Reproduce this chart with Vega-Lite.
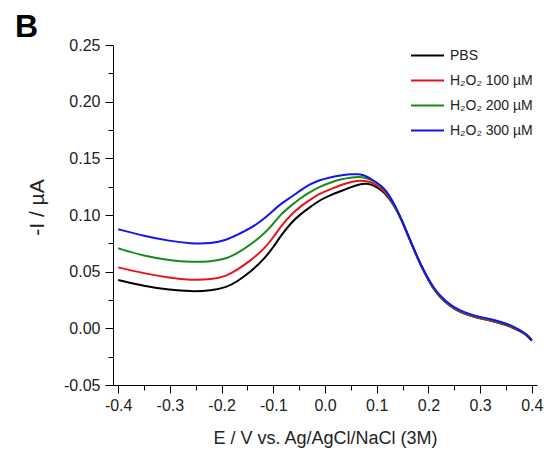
{
  "$schema": "https://vega.github.io/schema/vega-lite/v6.json",
  "width": 424,
  "height": 340,
  "autosize": {"type": "none"},
  "padding": {"left": 113, "top": 45, "right": 12, "bottom": 70},
  "config": {"font": "Liberation Sans", "view": {"stroke": null}},
  "title": {"text": "B", "fontSize": 32, "fontWeight": "bold", "anchor": "start", "frame": "group", "dx": -98, "dy": 35, "offset": 3, "baseline": "alphabetic", "color": "#000"},
  "datasets": {
    "curves": [
      {"s":"PBS","E":-0.40,"I":0.0426},{"s":"PBS","E":-0.35,"I":0.0373},{"s":"PBS","E":-0.30,"I":0.0338},{"s":"PBS","E":-0.26,"I":0.0325},{"s":"PBS","E":-0.22,"I":0.0332},{"s":"PBS","E":-0.19,"I":0.0362},{"s":"PBS","E":-0.17,"I":0.0412},{"s":"PBS","E":-0.145,"I":0.0495},{"s":"PBS","E":-0.12,"I":0.06},{"s":"PBS","E":-0.10,"I":0.0715},{"s":"PBS","E":-0.085,"I":0.082},{"s":"PBS","E":-0.065,"I":0.0935},{"s":"PBS","E":-0.048,"I":0.1005},{"s":"PBS","E":-0.03,"I":0.1065},{"s":"PBS","E":-0.01,"I":0.1132},{"s":"PBS","E":0.01,"I":0.1175},{"s":"PBS","E":0.03,"I":0.121},{"s":"PBS","E":0.05,"I":0.1245},{"s":"PBS","E":0.065,"I":0.127},{"s":"PBS","E":0.08,"I":0.128},{"s":"PBS","E":0.095,"I":0.1262},{"s":"PBS","E":0.11,"I":0.1215},{"s":"PBS","E":0.12,"I":0.117},{"s":"PBS","E":0.13,"I":0.111},{"s":"PBS","E":0.14,"I":0.103},{"s":"PBS","E":0.15,"I":0.0935},{"s":"PBS","E":0.16,"I":0.0825},{"s":"PBS","E":0.17,"I":0.0715},{"s":"PBS","E":0.18,"I":0.061},{"s":"PBS","E":0.19,"I":0.0512},{"s":"PBS","E":0.20,"I":0.0425},{"s":"PBS","E":0.21,"I":0.035},{"s":"PBS","E":0.22,"I":0.0288},{"s":"PBS","E":0.235,"I":0.0222},{"s":"PBS","E":0.25,"I":0.0172},{"s":"PBS","E":0.265,"I":0.0137},{"s":"PBS","E":0.28,"I":0.0112},{"s":"PBS","E":0.30,"I":0.0087},{"s":"PBS","E":0.32,"I":0.0069},{"s":"PBS","E":0.345,"I":0.0037},{"s":"PBS","E":0.36,"I":0.0013},{"s":"PBS","E":0.375,"I":-0.002},{"s":"PBS","E":0.39,"I":-0.0058},{"s":"PBS","E":0.40,"I":-0.011},
      {"s":"H₂O₂ 100 µM","E":-0.40,"I":0.0538},{"s":"H₂O₂ 100 µM","E":-0.35,"I":0.0485},{"s":"H₂O₂ 100 µM","E":-0.30,"I":0.0445},{"s":"H₂O₂ 100 µM","E":-0.26,"I":0.0425},{"s":"H₂O₂ 100 µM","E":-0.22,"I":0.043},{"s":"H₂O₂ 100 µM","E":-0.19,"I":0.0462},{"s":"H₂O₂ 100 µM","E":-0.17,"I":0.0515},{"s":"H₂O₂ 100 µM","E":-0.145,"I":0.0595},{"s":"H₂O₂ 100 µM","E":-0.12,"I":0.069},{"s":"H₂O₂ 100 µM","E":-0.10,"I":0.08},{"s":"H₂O₂ 100 µM","E":-0.085,"I":0.0905},{"s":"H₂O₂ 100 µM","E":-0.065,"I":0.1005},{"s":"H₂O₂ 100 µM","E":-0.048,"I":0.1074},{"s":"H₂O₂ 100 µM","E":-0.03,"I":0.113},{"s":"H₂O₂ 100 µM","E":-0.01,"I":0.1191},{"s":"H₂O₂ 100 µM","E":0.01,"I":0.1225},{"s":"H₂O₂ 100 µM","E":0.03,"I":0.1265},{"s":"H₂O₂ 100 µM","E":0.05,"I":0.129},{"s":"H₂O₂ 100 µM","E":0.065,"I":0.1305},{"s":"H₂O₂ 100 µM","E":0.08,"I":0.13},{"s":"H₂O₂ 100 µM","E":0.095,"I":0.128},{"s":"H₂O₂ 100 µM","E":0.11,"I":0.123},{"s":"H₂O₂ 100 µM","E":0.12,"I":0.118},{"s":"H₂O₂ 100 µM","E":0.13,"I":0.1115},{"s":"H₂O₂ 100 µM","E":0.14,"I":0.1032},{"s":"H₂O₂ 100 µM","E":0.15,"I":0.0937},{"s":"H₂O₂ 100 µM","E":0.16,"I":0.0827},{"s":"H₂O₂ 100 µM","E":0.17,"I":0.0717},{"s":"H₂O₂ 100 µM","E":0.18,"I":0.0612},{"s":"H₂O₂ 100 µM","E":0.19,"I":0.0514},{"s":"H₂O₂ 100 µM","E":0.20,"I":0.0427},{"s":"H₂O₂ 100 µM","E":0.21,"I":0.0351},{"s":"H₂O₂ 100 µM","E":0.22,"I":0.029},{"s":"H₂O₂ 100 µM","E":0.235,"I":0.0223},{"s":"H₂O₂ 100 µM","E":0.25,"I":0.0173},{"s":"H₂O₂ 100 µM","E":0.265,"I":0.0138},{"s":"H₂O₂ 100 µM","E":0.28,"I":0.0113},{"s":"H₂O₂ 100 µM","E":0.30,"I":0.0088},{"s":"H₂O₂ 100 µM","E":0.32,"I":0.007},{"s":"H₂O₂ 100 µM","E":0.345,"I":0.0038},{"s":"H₂O₂ 100 µM","E":0.36,"I":0.0014},{"s":"H₂O₂ 100 µM","E":0.375,"I":-0.0019},{"s":"H₂O₂ 100 µM","E":0.39,"I":-0.0057},{"s":"H₂O₂ 100 µM","E":0.40,"I":-0.0109},
      {"s":"H₂O₂ 200 µM","E":-0.40,"I":0.0706},{"s":"H₂O₂ 200 µM","E":-0.35,"I":0.0638},{"s":"H₂O₂ 200 µM","E":-0.30,"I":0.06},{"s":"H₂O₂ 200 µM","E":-0.26,"I":0.0585},{"s":"H₂O₂ 200 µM","E":-0.22,"I":0.0588},{"s":"H₂O₂ 200 µM","E":-0.19,"I":0.0615},{"s":"H₂O₂ 200 µM","E":-0.17,"I":0.0662},{"s":"H₂O₂ 200 µM","E":-0.145,"I":0.0735},{"s":"H₂O₂ 200 µM","E":-0.12,"I":0.0824},{"s":"H₂O₂ 200 µM","E":-0.10,"I":0.092},{"s":"H₂O₂ 200 µM","E":-0.085,"I":0.101},{"s":"H₂O₂ 200 µM","E":-0.065,"I":0.1085},{"s":"H₂O₂ 200 µM","E":-0.048,"I":0.1147},{"s":"H₂O₂ 200 µM","E":-0.03,"I":0.12},{"s":"H₂O₂ 200 µM","E":-0.01,"I":0.125},{"s":"H₂O₂ 200 µM","E":0.01,"I":0.1285},{"s":"H₂O₂ 200 µM","E":0.03,"I":0.1315},{"s":"H₂O₂ 200 µM","E":0.05,"I":0.133},{"s":"H₂O₂ 200 µM","E":0.065,"I":0.1338},{"s":"H₂O₂ 200 µM","E":0.08,"I":0.1328},{"s":"H₂O₂ 200 µM","E":0.095,"I":0.13},{"s":"H₂O₂ 200 µM","E":0.11,"I":0.1248},{"s":"H₂O₂ 200 µM","E":0.12,"I":0.1195},{"s":"H₂O₂ 200 µM","E":0.13,"I":0.112},{"s":"H₂O₂ 200 µM","E":0.14,"I":0.1035},{"s":"H₂O₂ 200 µM","E":0.15,"I":0.0938},{"s":"H₂O₂ 200 µM","E":0.16,"I":0.0828},{"s":"H₂O₂ 200 µM","E":0.17,"I":0.0718},{"s":"H₂O₂ 200 µM","E":0.18,"I":0.0613},{"s":"H₂O₂ 200 µM","E":0.19,"I":0.0517},{"s":"H₂O₂ 200 µM","E":0.20,"I":0.043},{"s":"H₂O₂ 200 µM","E":0.21,"I":0.0355},{"s":"H₂O₂ 200 µM","E":0.22,"I":0.0294},{"s":"H₂O₂ 200 µM","E":0.235,"I":0.0228},{"s":"H₂O₂ 200 µM","E":0.25,"I":0.0178},{"s":"H₂O₂ 200 µM","E":0.265,"I":0.0144},{"s":"H₂O₂ 200 µM","E":0.28,"I":0.0119},{"s":"H₂O₂ 200 µM","E":0.30,"I":0.0094},{"s":"H₂O₂ 200 µM","E":0.32,"I":0.0076},{"s":"H₂O₂ 200 µM","E":0.345,"I":0.0044},{"s":"H₂O₂ 200 µM","E":0.36,"I":0.002},{"s":"H₂O₂ 200 µM","E":0.375,"I":-0.0014},{"s":"H₂O₂ 200 µM","E":0.39,"I":-0.0053},{"s":"H₂O₂ 200 µM","E":0.40,"I":-0.0107},
      {"s":"H₂O₂ 300 µM","E":-0.40,"I":0.0874},{"s":"H₂O₂ 300 µM","E":-0.35,"I":0.0815},{"s":"H₂O₂ 300 µM","E":-0.30,"I":0.077},{"s":"H₂O₂ 300 µM","E":-0.26,"I":0.0748},{"s":"H₂O₂ 300 µM","E":-0.22,"I":0.0748},{"s":"H₂O₂ 300 µM","E":-0.19,"I":0.078},{"s":"H₂O₂ 300 µM","E":-0.17,"I":0.0824},{"s":"H₂O₂ 300 µM","E":-0.145,"I":0.088},{"s":"H₂O₂ 300 µM","E":-0.12,"I":0.0956},{"s":"H₂O₂ 300 µM","E":-0.10,"I":0.104},{"s":"H₂O₂ 300 µM","E":-0.085,"I":0.11},{"s":"H₂O₂ 300 µM","E":-0.065,"I":0.116},{"s":"H₂O₂ 300 µM","E":-0.048,"I":0.1215},{"s":"H₂O₂ 300 µM","E":-0.03,"I":0.127},{"s":"H₂O₂ 300 µM","E":-0.01,"I":0.131},{"s":"H₂O₂ 300 µM","E":0.01,"I":0.1332},{"s":"H₂O₂ 300 µM","E":0.03,"I":0.135},{"s":"H₂O₂ 300 µM","E":0.05,"I":0.136},{"s":"H₂O₂ 300 µM","E":0.065,"I":0.1362},{"s":"H₂O₂ 300 µM","E":0.08,"I":0.1345},{"s":"H₂O₂ 300 µM","E":0.095,"I":0.13},{"s":"H₂O₂ 300 µM","E":0.11,"I":0.1255},{"s":"H₂O₂ 300 µM","E":0.12,"I":0.1205},{"s":"H₂O₂ 300 µM","E":0.13,"I":0.113},{"s":"H₂O₂ 300 µM","E":0.14,"I":0.104},{"s":"H₂O₂ 300 µM","E":0.15,"I":0.094},{"s":"H₂O₂ 300 µM","E":0.16,"I":0.083},{"s":"H₂O₂ 300 µM","E":0.17,"I":0.072},{"s":"H₂O₂ 300 µM","E":0.18,"I":0.0615},{"s":"H₂O₂ 300 µM","E":0.19,"I":0.052},{"s":"H₂O₂ 300 µM","E":0.20,"I":0.0435},{"s":"H₂O₂ 300 µM","E":0.21,"I":0.036},{"s":"H₂O₂ 300 µM","E":0.22,"I":0.03},{"s":"H₂O₂ 300 µM","E":0.235,"I":0.0235},{"s":"H₂O₂ 300 µM","E":0.25,"I":0.0185},{"s":"H₂O₂ 300 µM","E":0.265,"I":0.015},{"s":"H₂O₂ 300 µM","E":0.28,"I":0.0125},{"s":"H₂O₂ 300 µM","E":0.30,"I":0.01},{"s":"H₂O₂ 300 µM","E":0.32,"I":0.0082},{"s":"H₂O₂ 300 µM","E":0.345,"I":0.005},{"s":"H₂O₂ 300 µM","E":0.36,"I":0.0025},{"s":"H₂O₂ 300 µM","E":0.375,"I":-0.001},{"s":"H₂O₂ 300 µM","E":0.39,"I":-0.005},{"s":"H₂O₂ 300 µM","E":0.40,"I":-0.0105}
    ]
  },
  "data": {"name": "curves"},
  "mark": {"type": "line", "strokeWidth": 2, "interpolate": "basis"},
  "encoding": {
    "x": {
      "field": "E", "type": "quantitative",
      "scale": {"domain": [-0.41, 0.41], "nice": false, "zero": false},
      "axis": {
        "values": [-0.4,-0.35,-0.3,-0.25,-0.2,-0.15,-0.1,-0.05,0,0.05,0.1,0.15,0.2,0.25,0.3,0.35,0.4],
        "labelExpr": "abs(round(datum.value*100)) % 10 == 0 ? replace(format(datum.value, '.1f'), '−', '-') : ''",
        "tickSize": {"condition": {"test": "abs(round(datum.value*100)) % 10 != 0", "value": 5}, "value": 8},
        "grid": false, "labelOverlap": false, "labelFlush": false, "labelBound": false,
        "labelFontSize": 16, "labelPadding": 4, "labelColor": "#222",
        "domainColor": "#000", "tickColor": "#000",
        "title": "E / V vs. Ag/AgCl/NaCl (3M)", "titleFontSize": 18, "titleFontWeight": "normal", "titleColor": "#222",
        "titleY": 53, "titleBaseline": "middle"
      }
    },
    "y": {
      "field": "I", "type": "quantitative",
      "scale": {"domain": [-0.05, 0.25], "nice": false, "zero": false},
      "axis": {
        "values": [-0.05,-0.025,0,0.025,0.05,0.075,0.1,0.125,0.15,0.175,0.2,0.225,0.25],
        "labelExpr": "abs(round(datum.value*1000)) % 50 == 0 ? replace(format(datum.value, '.2f'), '−', '-') : ''",
        "tickSize": {"condition": {"test": "abs(round(datum.value*1000)) % 50 != 0", "value": 5}, "value": 8},
        "grid": false, "labelOverlap": false, "labelFlush": false, "labelBound": false,
        "labelFontSize": 16, "labelPadding": 5, "labelColor": "#222",
        "domainColor": "#000", "tickColor": "#000",
        "title": "-I / µA", "titleFontSize": 21, "titleFontWeight": "normal", "titleColor": "#222",
        "titleX": -76, "titleY": 162, "titleAlign": "center", "titleBaseline": "middle", "titleAngle": -90
      }
    },
    "color": {
      "field": "s", "type": "nominal",
      "scale": {"domain": ["PBS", "H₂O₂ 100 µM", "H₂O₂ 200 µM", "H₂O₂ 300 µM"], "range": ["#000000", "#e8141c", "#178a17", "#1414f0"]},
      "legend": {
        "orient": "none", "legendX": 297, "legendY": -7, "title": null, "padding": 0,
        "symbolType": "stroke", "symbolSize": 1089, "symbolStrokeWidth": 2,
        "labelFontSize": 14, "labelColor": "#222", "labelOffset": 5, "rowPadding": -13
      }
    }
  }
}
